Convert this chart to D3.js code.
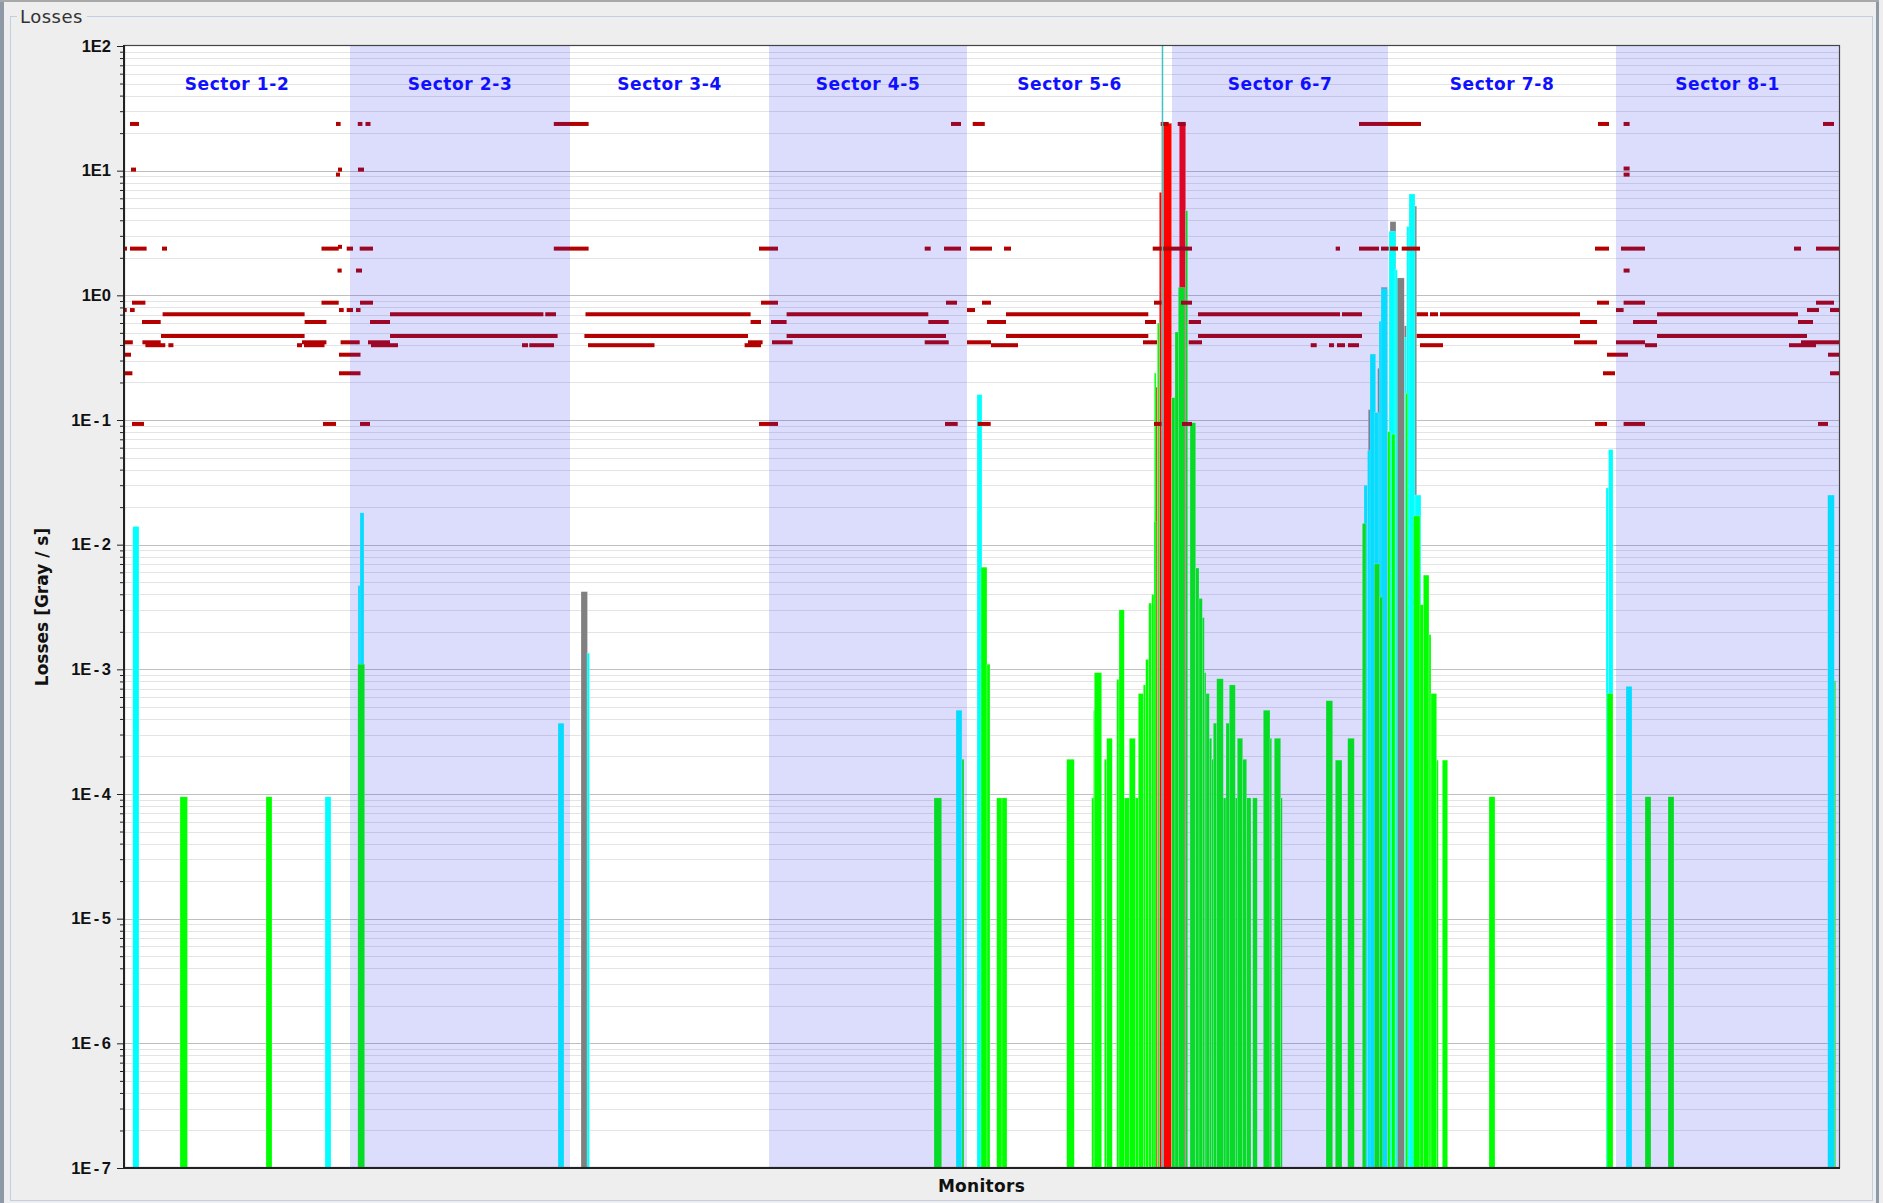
<!DOCTYPE html>
<meta charset="utf-8">
<script src="https://d3js.org/d3.v7.min.js"></script>
<style type="text/css">
body { margin: 0; background: #eeeeee; }
svg { display: block; font-family: "DejaVu Sans", sans-serif; }
.grid .minor { stroke: #e4e4e4; stroke-width: 1px; }
.grid .major { stroke: #bfbfbf; stroke-width: 1px; }
.axis text { font-size: 16.5px; font-weight: bold; fill: #111; }
.axis path { stroke: #222; stroke-width: 2px; }
.axis line { stroke: #222; }
.sectorLabel { font-size: 17px; font-weight: bold; fill: #1010ff; letter-spacing: 0.6px; }
.axisTitle { font-size: 17px; font-weight: bold; fill: #111; }
</style>
<body></body>
<script>

// monitor positions run from 0 to N_MONITORS along the ring
var N_MONITORS = 1715;

var sectorNames = ['Sector 1-2', 'Sector 2-3', 'Sector 3-4', 'Sector 4-5',
                   'Sector 5-6', 'Sector 6-7', 'Sector 7-8', 'Sector 8-1'];
var sectorEdges = [0, 226, 446, 645, 843, 1048, 1264, 1492, 1715];

var decades = [-7, -6, -5, -4, -3, -2, -1, 0, 1, 2];

// marker monitor (vertical line)
var markerMonitors = [1038.5];

// bars: [first monitor, last monitor, loss in Gy/s]
var grayBars = [
  [457, 463.5, 4.2e-3], [1244.3, 1250.3, 0.121], [1253.7, 1256.7, 0.26],
  [1257, 1263.3, 1.16], [1266, 1272, 3.9], [1272, 1280.3, 1.38],
  [1280.3, 1282.7, 0.57], [1285, 1292.7, 5.2], [1037.7, 1039.3, 24]
];

var cyanBars = [
  [8.8, 15, 0.014], [234, 237.5, 0.0047], [236, 240, 0.018], [201, 207, 9.5e-5],
  [434, 440, 3.7e-4], [463, 465.5, 1.35e-3], [832, 838, 4.7e-4], [853, 858, 0.16],
  [1240, 1243.5, 0.03], [1243.5, 1249.3, 0.057], [1246, 1251.7, 0.338],
  [1250.3, 1255, 0.115], [1255, 1257.7, 0.62], [1257, 1263.3, 1.13],
  [1265, 1271.7, 3.27], [1271, 1273.3, 1.6], [1280.7, 1282.7, 0.46],
  [1282.7, 1289.3, 3.57], [1285, 1291, 6.5], [1291, 1297, 0.025],
  [1482, 1484.5, 0.0285], [1484.5, 1489, 0.058], [1502, 1508, 7.3e-4],
  [1703.7, 1710.3, 0.025]
];

var redBars = [
  [1035.3, 1037.7, 6.7], [1039.3, 1047.7, 24], [1055.3, 1061.7, 24],
  [1032, 1033.3, 0.184]
];

var greenBars = [
  [56, 63.5, 9.5e-5], [142, 148, 9.5e-5], [233.8, 240.7, 1.1e-3],
  [810, 817.7, 9.3e-5], [838, 840, 1.9e-4], [857, 863, 6.6e-3], [863, 866, 1.1e-3],
  [872.7, 878, 9.3e-5], [878, 883, 9.3e-5], [942.7, 950.3, 1.9e-4],
  [967.7, 970.3, 9.3e-5], [969.5, 971, 4.7e-4], [970.3, 977.7, 9.4e-4],
  [980.3, 982.7, 1.9e-4], [982.7, 988.3, 2.8e-4], [992.7, 995, 8.3e-4],
  [995, 1000.3, 3.0e-3], [1000.3, 1005.3, 9.3e-5], [1005.3, 1011.3, 2.8e-4],
  [1011.3, 1014.3, 9.3e-5], [1014.3, 1019.3, 6.4e-4], [1019.3, 1021.7, 7.5e-4],
  [1021.7, 1024.7, 1.2e-3], [1024.7, 1027.7, 3.4e-3], [1027.7, 1030, 4.0e-3],
  [1030.3, 1032, 0.238], [1030, 1032, 0.0154], [1033.3, 1035.3, 0.6],
  [1047.7, 1051, 0.151], [1051, 1054.3, 0.508], [1054.3, 1060.7, 1.16],
  [1061.7, 1063.7, 4.77], [1066, 1071.7, 0.095], [1071.7, 1075, 6.5e-3],
  [1075, 1078.3, 3.7e-3], [1078.3, 1080.3, 2.6e-3], [1080.3, 1082, 9.4e-4],
  [1082, 1085.3, 6.4e-4], [1085.3, 1087.7, 2.8e-4], [1087.7, 1089.3, 1.9e-4],
  [1089.3, 1092.7, 3.7e-4], [1092.7, 1099.3, 8.4e-4], [1099.3, 1102, 9.3e-5],
  [1102, 1105.3, 3.7e-4], [1105.3, 1111.3, 7.5e-4], [1111.3, 1113.3, 9.3e-5],
  [1113.3, 1118.7, 2.8e-4], [1118.7, 1122.7, 1.9e-4], [1122.7, 1127, 9.3e-5],
  [1128.7, 1133.3, 9.3e-5], [1139.3, 1146, 4.7e-4], [1146, 1147.7, 2.8e-4],
  [1150.3, 1156.7, 2.8e-4], [1156.7, 1158.3, 9.3e-5],
  [1202, 1208.7, 5.6e-4], [1211.3, 1218, 1.87e-4], [1223.7, 1230.3, 2.8e-4],
  [1238.3, 1242, 0.0148], [1250.3, 1255.7, 7.0e-3], [1255.7, 1258.7, 3.8e-3],
  [1263.7, 1266, 0.081], [1267.7, 1271, 0.077], [1281.7, 1283.7, 0.164],
  [1289.3, 1296, 0.017], [1296, 1299.3, 3.3e-3], [1299.3, 1305, 5.7e-3],
  [1305, 1307, 1.9e-3], [1307, 1312.7, 6.4e-4], [1312.7, 1314.3, 1.87e-4],
  [1318.3, 1323.7, 1.87e-4], [1365, 1371, 9.5e-5], [1483, 1489, 6.4e-4],
  [1521, 1527, 9.5e-5], [1544, 1550, 9.5e-5], [1710.3, 1711.7, 8.1e-4]
];

// threshold dashes: [first monitor, last monitor, level in Gy/s]
var thresholds = [
  [6, 15, 23.7], [212, 216.6, 23.7], [233.8, 238.4, 23.7], [241.5, 246.5, 23.7], [429.8, 464.6, 23.7],
  [827, 837, 23.7], [848.7, 860.8, 23.7], [1036.7, 1044.7, 23.7], [1053.7, 1061.7, 23.7],
  [1235, 1297, 23.7], [1474, 1485, 23.7], [1499.6, 1505.6, 23.7], [1699, 1710, 23.7],
  [7, 12, 10.2], [214, 218, 10.2], [234, 240, 10.2], [212, 216, 9.3], [1499.6, 1505.6, 9.3],
  [1499.6, 1505.6, 10.4],
  [0.4, 3, 2.37], [6, 22.6, 2.37], [38, 43, 2.37], [197.5, 214.7, 2.37], [222.7, 229, 2.37],
  [235.7, 249, 2.37], [429.8, 464.6, 2.37], [635, 654, 2.37], [800.7, 806.7, 2.37],
  [820, 837, 2.37], [846, 868, 2.37], [880, 887, 2.37], [1028.7, 1068, 2.37],
  [1211.7, 1216, 2.37], [1235, 1255, 2.37], [1257, 1264.7, 2.37], [1266, 1274, 2.37],
  [1277.7, 1296, 2.37], [1471, 1485, 2.37], [1497, 1521, 2.37], [1670, 1677, 2.37],
  [1692, 1715, 2.37], [214, 218, 2.45],
  [213.5, 217.7, 1.58], [232, 238, 1.58], [1499.6, 1505.6, 1.58],
  [8, 21.4, 0.873], [197.5, 214.7, 0.873], [236, 249, 0.873], [637, 654, 0.873],
  [822, 833, 0.873], [858, 867, 0.873], [1030, 1037.7, 0.873], [1057, 1068, 0.873],
  [1473, 1485, 0.873], [1499.6, 1521, 0.873], [1692, 1710, 0.873],
  [0.4, 2.7, 0.762], [6, 10.7, 0.762], [215, 219.7, 0.762], [222.7, 229, 0.762],
  [232, 236.5, 0.762], [843, 851, 0.762], [1492, 1499.6, 0.762], [1683, 1695, 0.762],
  [1706, 1715, 0.762],
  [38.6, 180.6, 0.705], [266, 419.4, 0.705], [421.3, 432, 0.705], [461.5, 626.6, 0.705],
  [662.6, 804.3, 0.705], [882, 1024.3, 0.705], [1074, 1216, 0.705], [1218, 1238, 0.705],
  [1292.7, 1304, 0.705], [1306, 1314, 0.705], [1316, 1456, 0.705], [1533, 1674, 0.705],
  [18, 36.7, 0.611], [180.6, 202.4, 0.611], [246, 266, 0.611], [626.6, 637, 0.611],
  [647, 662.6, 0.611], [804.3, 824.7, 0.611], [863, 882, 0.611], [1021, 1032, 0.611],
  [1064.7, 1077, 0.611], [1456, 1473, 0.611], [1509, 1533, 0.611], [1674, 1689, 0.611],
  [37, 180.6, 0.472], [266, 433.6, 0.472], [460.4, 624, 0.472], [662.6, 822, 0.472],
  [882, 1024.3, 0.472], [1074, 1238, 0.472], [1292.7, 1456, 0.472], [1533, 1683, 0.472],
  [0.4, 8.8, 0.42], [18.4, 36.7, 0.42], [178, 202.4, 0.42], [216.6, 235.7, 0.42],
  [244, 266, 0.42], [624, 638.6, 0.42], [648, 668.6, 0.42], [800.7, 824.7, 0.42],
  [843, 867, 0.42], [1019, 1033, 0.42], [1064.7, 1078, 0.42], [1450, 1473, 0.42],
  [1492, 1521, 0.42], [1677, 1715, 0.42],
  [21.4, 41.3, 0.398], [44.4, 49.4, 0.398], [173, 178, 0.398], [180, 200.5, 0.398],
  [247, 274, 0.398], [398, 404, 0.398], [405.3, 430, 0.398], [464, 530.5, 0.398],
  [620.6, 637, 0.398], [867, 894, 0.398], [1186.7, 1192.7, 0.398], [1205, 1210, 0.398],
  [1213, 1221, 0.398], [1224, 1235, 0.398], [1296, 1319, 0.398], [1521, 1533, 0.398],
  [1665, 1692, 0.398],
  [0.4, 7, 0.334], [215, 236.5, 0.334], [1483, 1504, 0.334], [1704, 1715, 0.334],
  [0.4, 8.4, 0.237], [215, 236.5, 0.237], [1479, 1491, 0.237], [1706, 1715, 0.237],
  [8, 20, 0.093], [199, 212, 0.093], [236, 246, 0.093], [635, 654, 0.093],
  [821, 833.7, 0.093], [853.7, 866.7, 0.093], [1030, 1037.7, 0.093], [1058, 1068, 0.093],
  [1471, 1483, 0.093], [1499.6, 1521, 0.093], [1694, 1704, 0.093]
];

var W = 1883, H = 1203;
var plot = {left: 124, right: 1839, top: 46, bottom: 1168};

var svg = d3.select('body').append('svg')
    .attr('width', W)
    .attr('height', H);

// window frame and titled border
svg.append('rect').attr('width', W).attr('height', H).attr('fill', '#eeeeee');
svg.append('rect').attr('x', 0).attr('y', 0).attr('width', 4).attr('height', H).attr('fill', '#8d99a5');
svg.append('rect').attr('x', 1876).attr('y', 0).attr('width', 3).attr('height', H).attr('fill', '#8d99a5');
svg.append('rect').attr('x', 0).attr('y', 0).attr('width', 1879).attr('height', 2).attr('fill', '#a8a8a8');
svg.append('rect')
    .attr('x', 10.5).attr('y', 16.5)
    .attr('width', 1862).attr('height', 1184)
    .attr('fill', 'none')
    .attr('stroke', '#bfd0e2');
svg.append('rect').attr('x', 17).attr('y', 6).attr('width', 70).attr('height', 22).attr('fill', '#eeeeee');
svg.append('text')
    .attr('x', 20).attr('y', 23)
    .attr('font-size', 18)
    .attr('letter-spacing', 0.5)
    .attr('fill', '#333')
    .text('Losses');

// scales
var xScale = d3.scaleLinear()
    .domain([0, N_MONITORS])
    .range([plot.left, plot.right]);

var yScale = d3.scaleLog()
    .domain([1e-7, 1e2])
    .range([plot.bottom, plot.top]);

var majorTicks = decades.map(e => Math.pow(10, e));
var minorTicks = [];
decades.slice(0, -1).forEach(function(e) {
  for (var m = 2; m <= 9; m++) minorTicks.push(m * Math.pow(10, e));
});

var plotW = plot.right - plot.left;

svg.append('rect')
    .attr('x', plot.left).attr('y', plot.top)
    .attr('width', plotW).attr('height', plot.bottom - plot.top)
    .attr('fill', '#ffffff');

// gridlines
var grid = svg.append('g').attr('class', 'grid');
grid.selectAll('.minor').data(minorTicks).enter().append('line')
    .attr('class', 'minor')
    .attr('x1', plot.left).attr('x2', plot.right)
    .attr('y1', d => Math.round(yScale(d)) + 0.5)
    .attr('y2', d => Math.round(yScale(d)) + 0.5);
grid.selectAll('.major').data(majorTicks.slice(1, -1)).enter().append('line')
    .attr('class', 'major')
    .attr('x1', plot.left).attr('x2', plot.right)
    .attr('y1', d => Math.round(yScale(d)) + 0.5)
    .attr('y2', d => Math.round(yScale(d)) + 0.5);

// bars
function drawBars(data, color, cls) {
  svg.append('g').selectAll('.' + cls)
    .data(data).enter().append('rect')
      .attr('class', cls)
      .attr('x', d => xScale(d[0]))
      .attr('width', d => xScale(d[1]) - xScale(d[0]))
      .attr('y', d => yScale(d[2]))
      .attr('height', d => plot.bottom - yScale(d[2]))
      .attr('fill', color)
      .attr('stroke', 'rgba(255,255,255,0.45)')
      .attr('stroke-width', 0.5);
}

drawBars(grayBars, '#808080', 'grayBar');
drawBars(cyanBars, '#00ffff', 'cyanBar');
drawBars(redBars, '#ff0000', 'redBar');
drawBars(greenBars, '#00ff00', 'greenBar');

// threshold dashes
svg.append('g').selectAll('.thr')
    .data(thresholds).enter().append('rect')
      .attr('class', 'thr')
      .attr('x', d => xScale(d[0]))
      .attr('width', d => xScale(d[1]) - xScale(d[0]))
      .attr('y', d => yScale(d[2]) - 2)
      .attr('height', 4)
      .attr('fill', '#b30000');

// shaded sectors
var sectors = sectorNames.map(function(name, i) {
  return {name: name, x0: sectorEdges[i], x1: sectorEdges[i + 1], shaded: i % 2 == 1};
});

svg.append('g').selectAll('.shade')
    .data(sectors.filter(d => d.shaded)).enter().append('rect')
      .attr('class', 'shade')
      .attr('x', d => xScale(d.x0))
      .attr('width', d => xScale(d.x1) - xScale(d.x0))
      .attr('y', plot.top)
      .attr('height', plot.bottom - plot.top)
      .attr('fill', 'rgba(40,40,240,0.16)');

svg.append('g').selectAll('.marker')
    .data(markerMonitors).enter().append('line')
      .attr('x1', d => xScale(d)).attr('x2', d => xScale(d))
      .attr('y1', plot.top).attr('y2', plot.bottom)
      .attr('stroke', '#3fc4c4')
      .attr('stroke-width', 1.5);

svg.append('g').selectAll('.sectorLabel')
    .data(sectors).enter().append('text')
      .attr('class', 'sectorLabel')
      .attr('x', d => xScale((d.x0 + d.x1) / 2))
      .attr('y', 90)
      .attr('text-anchor', 'middle')
      .text(d => d.name);

// axes
var yAxis = d3.axisLeft(yScale)
    .tickValues(majorTicks)
    .tickSize(7)
    .tickPadding(6)
    .tickFormat('');

var yMinor = d3.axisLeft(yScale)
    .tickValues(minorTicks)
    .tickSize(4)
    .tickFormat('');

svg.append('g')
    .attr('class', 'y axis')
    .attr('transform', 'translate(' + plot.left + ',0)')
    .call(yMinor);

var yAxisG = svg.append('g')
    .attr('class', 'y axis')
    .attr('transform', 'translate(' + plot.left + ',0)')
    .call(yAxis);

// tick labels like "1E-7": the minus gets a little room around it
yAxisG.selectAll('.tick text').each(function(d) {
  var e = Math.round(Math.log10(d));
  var t = d3.select(this).text('1E');
  if (e < 0) {
    t.append('tspan').attr('dx', 2.5).text('-');
    t.append('tspan').attr('dx', 2.5).text(-e);
  } else {
    t.append('tspan').text(e);
  }
});

svg.selectAll('.axis path').attr('d', null);

// plot border
svg.append('rect')
    .attr('x', plot.left + 0.5).attr('y', plot.top - 0.5)
    .attr('width', plotW).attr('height', plot.bottom - plot.top)
    .attr('fill', 'none')
    .attr('stroke', '#444')
    .attr('stroke-width', 1.2);
svg.append('line')
    .attr('x1', plot.left).attr('x2', plot.left)
    .attr('y1', plot.top - 1).attr('y2', plot.bottom + 1)
    .attr('stroke', '#222').attr('stroke-width', 2);
svg.append('line')
    .attr('x1', plot.left - 1).attr('x2', plot.right + 1)
    .attr('y1', plot.bottom).attr('y2', plot.bottom)
    .attr('stroke', '#222').attr('stroke-width', 2);

svg.append('text')
    .attr('class', 'axisTitle')
    .attr('x', (plot.left + plot.right) / 2)
    .attr('y', 1192)
    .attr('text-anchor', 'middle')
    .attr('letter-spacing', 0.3)
    .text('Monitors');

svg.append('text')
    .attr('class', 'axisTitle')
    .attr('transform', 'translate(48,' + ((plot.top + plot.bottom) / 2) + ') rotate(-90)')
    .attr('text-anchor', 'middle')
    .text('Losses [Gray / s]');

</script>
